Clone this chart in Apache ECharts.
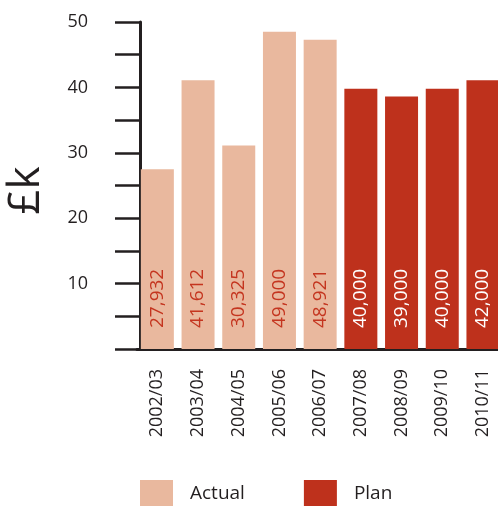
<!DOCTYPE html>
<html><head><meta charset="utf-8">
<script src="https://cdn.jsdelivr.net/npm/echarts@6/dist/echarts.min.js"></script>
<style>html,body{margin:0;padding:0;background:#fff}#c{width:498px;height:506px}</style>
</head><body><div id="c"></div>
<script>
const categories = ['2002/03','2003/04','2004/05','2005/06','2006/07','2007/08','2008/09','2009/10','2010/11'];
const actualValues = [27.5, 41.1, 31.1, 48.5, 47.3, null, null, null, null];
const planValues = [null, null, null, null, null, 39.8, 38.6, 39.8, 41.1];
const actualLabels = ['27,932','41,612','30,325','49,000','48,921','','','',''];
const planLabels = ['','','','','','40,000','39,000','40,000','42,000'];
const yTickLabels = [10, 20, 30, 40, 50];
const yAxisName = '£k';

const FONT = 'Open Sans';
const DARK = '#231f20';
const chart = echarts.init(document.getElementById('c'), null, {renderer:'canvas'});
function mkLabel(arr, color){
  return {show:true, position:'insideBottom', rotate:90, align:'left', verticalAlign:'middle',
    distance:21, color:color, fontFamily:FONT, fontSize:19,
    formatter:p=>arr[p.dataIndex]};
}
chart.setOption({
  animation:false,
  grid:{left:137, right:-5.3, top:22, bottom:157, containLabel:false, outerBoundsMode:'none'},
  legend:{top:480, left:140, padding:0, itemWidth:33, itemHeight:28, itemGap:59, icon:'rect',
    textStyle:{fontFamily:FONT, fontSize:19, color:DARK, padding:[8,0,0,12]},
    data:['Actual','Plan']},
  xAxis:{type:'category', data:categories,
    axisLine:{lineStyle:{color:DARK, width:3}}, axisTick:{show:false},
    axisLabel:{rotate:90, margin:20, fontFamily:FONT, fontSize:18, color:DARK, interval:0}},
  yAxis:{type:'value', min:0, max:50, interval:5, offset:-3,
    name:yAxisName, nameLocation:'middle', nameRotate:90, nameGap:92,
    nameTextStyle:{fontFamily:FONT, fontSize:44, color:DARK, padding:[0,10,0,0]},
    axisLine:{show:true, lineStyle:{color:DARK, width:3}},
    axisTick:{show:true, length:25, lineStyle:{color:DARK, width:2.5}},
    splitLine:{show:false},
    axisLabel:{margin:52, fontFamily:FONT, fontSize:18, color:DARK,
      formatter:v=>yTickLabels.includes(v)?String(v):''}},
  series:[
    {name:'Actual', type:'bar', stack:'s', data:actualValues, barWidth:33,
     itemStyle:{color:'#e9b89e'}, label:mkLabel(actualLabels,'#c4351f')},
    {name:'Plan', type:'bar', stack:'s', data:planValues, barWidth:33,
     itemStyle:{color:'#be311c'}, label:mkLabel(planLabels,'#ffffff')}
  ]
});
</script></body></html>
